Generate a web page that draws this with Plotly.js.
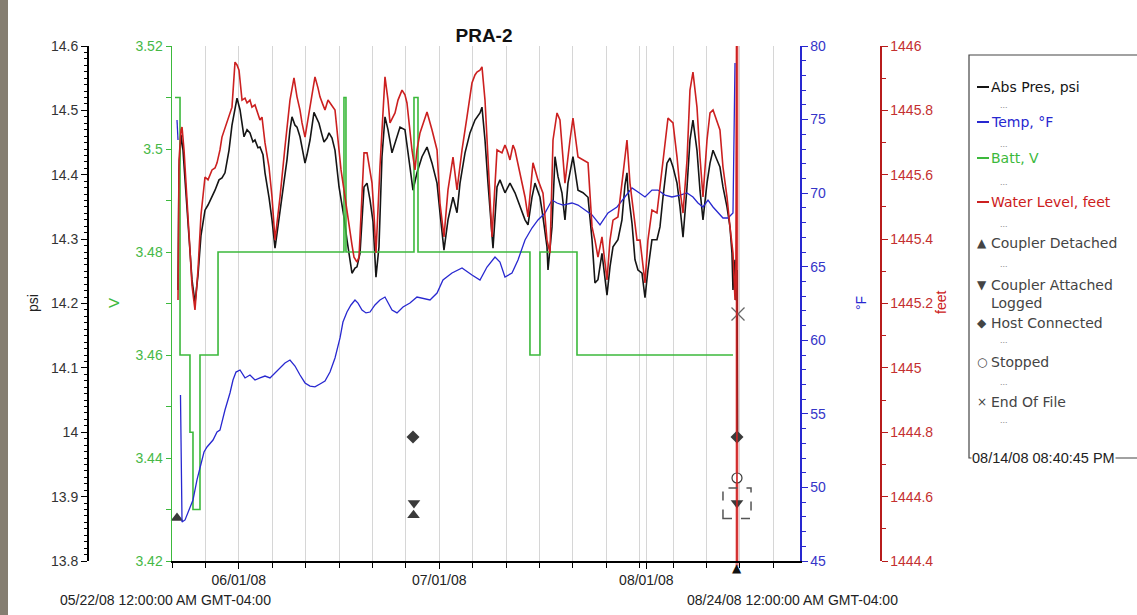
<!DOCTYPE html>
<html>
<head>
<meta charset="utf-8">
<script src="https://cdn.plot.ly/plotly-3.0.1.min.js"></script>
<style>
  html, body { margin: 0; padding: 0; background: #ffffff; }
  #chart { width: 1137px; height: 615px; }
</style>
</head>
<body>
<div id="chart"></div>
<script>
// ---------------- DATA ----------------
// time in days since 2008-05-22 00:00
const START_UTC = Date.UTC(2008, 4, 22);
const RANGE_DAYS = [0, 94];
const monthTicks = ['2008-06-01', '2008-07-01', '2008-08-01'];

const presDay = [0.90,1.05,1.35,1.65,1.95,2.39,2.69,2.99,3.44,3.89,
4.34,4.94,5.39,5.99,6.44,7.04,7.48,7.93,8.53,8.98,
9.28,9.73,10.18,10.78,11.23,11.67,12.12,12.42,12.87,13.17,
13.62,13.92,14.52,14.97,15.42,15.87,16.47,17.21,17.66,17.96,
18.41,18.71,19.16,19.61,19.91,20.21,20.66,21.25,21.70,22.00,
22.45,22.75,23.20,23.50,23.95,24.40,25.00,25.45,25.74,26.19,
26.64,26.94,27.39,27.69,28.14,28.44,28.74,29.19,29.64,30.09,
30.53,30.98,31.43,31.88,32.33,32.93,33.38,34.13,34.87,35.32,
35.62,36.07,36.37,36.67,37.42,38.17,38.92,39.67,40.11,40.71,
41.31,42.06,42.66,43.11,43.86,44.60,45.35,46.10,46.40,46.85,
47.30,47.90,48.05,48.65,49.09,49.84,50.59,51.34,52.09,52.84,
53.29,53.88,54.33,55.08,55.53,56.13,56.28,56.88,57.33,57.78,
58.37,58.82,59.27,60.02,60.77,61.52,62.27,62.87,63.31,63.76,
64.36,65.11,65.56,66.01,66.75,67.35,67.80,68.10,68.25,68.85,
69.30,69.75,70.35,70.80,71.24,71.84,72.59,73.04,73.49,74.09,
74.54,74.99,75.59,76.04,76.49,77.09,77.53,77.98,78.58,79.03,
79.48,80.08,80.53,80.98,81.58,82.02,82.47,83.07,83.52,83.82,
83.97,84.27,84.42,84.57,84.64];
const presPsi = [14.221,14.407,14.462,14.438,14.392,14.330,14.283,14.237,14.201,14.244,
14.306,14.345,14.353,14.365,14.376,14.392,14.395,14.403,14.438,14.477,
14.496,14.519,14.501,14.459,14.470,14.465,14.451,14.454,14.442,14.443,
14.431,14.403,14.365,14.330,14.286,14.322,14.365,14.423,14.470,14.490,
14.477,14.474,14.459,14.431,14.418,14.431,14.454,14.497,14.488,14.480,
14.462,14.451,14.457,14.465,14.457,14.438,14.381,14.353,14.334,14.299,
14.264,14.247,14.255,14.257,14.278,14.337,14.381,14.387,14.361,14.327,
14.241,14.288,14.428,14.490,14.470,14.434,14.449,14.474,14.470,14.438,
14.412,14.376,14.392,14.403,14.428,14.443,14.418,14.387,14.341,14.283,
14.330,14.365,14.341,14.387,14.434,14.465,14.485,14.496,14.505,14.454,
14.387,14.303,14.286,14.381,14.392,14.372,14.387,14.372,14.350,14.330,
14.322,14.365,14.387,14.365,14.334,14.288,14.252,14.319,14.428,14.397,
14.372,14.330,14.387,14.428,14.376,14.372,14.365,14.299,14.232,14.237,
14.278,14.213,14.257,14.288,14.299,14.330,14.384,14.403,14.376,14.325,
14.268,14.252,14.247,14.209,14.252,14.299,14.299,14.319,14.365,14.418,
14.426,14.412,14.387,14.350,14.303,14.381,14.454,14.485,14.438,14.376,
14.330,14.387,14.418,14.438,14.423,14.412,14.381,14.350,14.319,14.278,
14.221,14.268,14.205,14.252,13.988];

const levelDay = [0.90,1.05,1.35,1.50,1.80,2.10,2.39,2.69,2.99,3.44,
3.89,4.34,4.94,5.39,5.99,6.44,6.74,7.18,7.48,8.08,
8.53,8.98,9.43,9.73,10.03,10.48,10.93,11.23,11.67,11.97,
12.42,12.72,13.17,13.47,13.92,14.52,14.97,15.42,15.87,16.17,
16.91,17.66,18.26,18.71,19.16,19.46,19.91,20.21,20.66,21.40,
21.85,22.15,22.60,22.90,23.35,23.65,24.10,24.40,25.00,25.30,
25.74,26.49,26.94,27.24,27.69,27.99,28.44,28.74,29.19,29.64,
29.94,30.24,30.53,31.13,31.58,31.88,32.33,32.63,33.38,33.83,
34.43,34.87,35.17,35.62,35.92,36.37,36.67,37.12,37.72,38.17,
38.92,39.67,40.11,40.71,41.31,42.06,42.66,43.41,44.15,44.90,
45.35,45.65,46.10,46.40,46.85,47.30,47.90,48.65,49.39,49.84,
50.14,50.59,51.04,51.34,52.09,52.84,53.29,54.03,54.78,55.53,
56.13,56.58,57.03,57.63,58.07,58.82,59.57,60.02,60.77,61.52,
62.27,62.87,63.31,63.76,64.36,65.11,65.56,66.01,66.75,67.35,
68.10,68.55,69.00,69.60,70.05,70.80,71.24,71.84,72.59,73.04,
73.79,74.24,74.99,75.59,76.04,76.49,77.09,77.53,77.98,78.58,
79.03,79.48,80.08,80.53,80.98,81.58,82.02,82.47,83.07,83.52,
83.97,84.27,84.42,84.55,84.57];
const levelFt = [1445.211,1445.646,1445.739,1445.748,1445.677,1445.584,1445.475,1445.366,1445.257,1445.180,
1445.304,1445.475,1445.593,1445.584,1445.615,1445.621,1445.637,1445.677,1445.717,1445.755,
1445.779,1445.810,1445.950,1445.941,1445.925,1445.832,1445.838,1445.823,1445.832,1445.810,
1445.817,1445.795,1445.770,1445.779,1445.699,1445.624,1445.531,1445.397,1445.475,1445.531,
1445.686,1445.832,1445.901,1445.842,1445.801,1445.761,1445.717,1445.755,1445.810,1445.904,
1445.870,1445.842,1445.817,1445.801,1445.832,1445.823,1445.807,1445.801,1445.677,1445.615,
1445.553,1445.438,1445.382,1445.344,1445.329,1445.344,1445.522,1445.668,1445.668,1445.615,
1445.574,1445.475,1445.357,1445.624,1445.801,1445.904,1445.832,1445.761,1445.792,1445.832,
1445.863,1445.848,1445.823,1445.739,1445.677,1445.615,1445.677,1445.730,1445.770,1445.795,
1445.739,1445.677,1445.512,1445.407,1445.553,1445.655,1445.553,1445.677,1445.779,1445.885,
1445.910,1445.919,1445.925,1445.935,1445.832,1445.637,1445.407,1445.677,1445.668,1445.692,
1445.677,1445.646,1445.692,1445.677,1445.605,1445.531,1445.469,1445.637,1445.584,1445.543,
1445.397,1445.357,1445.708,1445.792,1445.770,1445.574,1445.708,1445.776,1445.655,1445.646,
1445.637,1445.438,1445.397,1445.344,1445.407,1445.273,1445.397,1445.459,1445.469,1445.574,
1445.708,1445.574,1445.500,1445.397,1445.397,1445.264,1445.397,1445.490,1445.481,1445.562,
1445.677,1445.776,1445.761,1445.655,1445.553,1445.481,1445.646,1445.863,1445.919,1445.810,
1445.655,1445.531,1445.708,1445.792,1445.801,1445.761,1445.739,1445.624,1445.531,1445.438,
1445.357,1445.211,1445.335,1446.100,1444.300];

const tempDay = [0.75,0.90,0.95,1.27,1.50,1.95,2.39,3.14,3.74,4.19,
4.79,5.24,6.14,6.74,7.18,7.93,8.68,9.13,9.58,10.18,
10.93,11.67,12.42,13.17,13.92,14.67,15.42,16.17,16.91,17.66,
18.41,19.16,19.91,20.66,21.40,22.15,22.90,23.65,24.40,25.15,
25.59,26.19,26.79,27.39,27.84,28.44,29.04,29.64,30.38,31.13,
31.88,32.93,33.68,34.58,35.62,36.67,37.57,38.62,39.67,40.56,
41.91,43.41,44.90,46.10,47.15,48.35,49.09,49.84,50.89,51.79,
52.84,53.88,54.78,55.83,56.88,57.63,58.52,59.87,60.77,61.82,
62.87,64.06,65.26,66.61,67.80,68.85,69.75,70.80,71.84,72.74,
73.79,74.84,76.04,77.09,77.98,78.73,79.48,80.23,80.98,81.73,
82.47,83.22,83.97,84.27];
const tempF = [74.97,73.61,null,56.28,47.65,47.79,48.33,49.15,50.51,51.39,
52.41,52.75,53.22,53.77,53.90,55.26,56.42,57.30,57.84,57.98,
57.44,57.64,57.30,57.44,57.57,57.44,57.78,58.12,58.46,58.66,
58.25,57.64,57.10,56.89,56.83,57.03,57.23,57.84,58.80,60.16,
61.24,61.92,62.40,62.74,62.53,62.06,61.86,61.92,62.40,62.74,
62.94,62.06,61.86,62.26,62.53,62.94,62.87,62.74,63.21,64.10,
64.57,64.91,64.44,64.10,64.98,65.66,65.32,64.30,64.57,65.46,
66.82,67.63,68.18,68.65,69.53,69.33,69.19,69.33,69.19,68.85,
68.52,67.84,68.65,69.06,69.74,70.35,70.08,69.74,70.21,70.21,
69.87,69.74,69.87,70.01,69.74,69.33,69.06,69.53,69.06,68.65,
68.31,68.31,68.65,78.84];

const battDay = [0.45,1.20,2.69,3.14,4.19,6.89,25.74,26.04,36.22,36.82,53.58,55.08,60.62,83.97];
const battV   = [3.51,3.46,3.445,3.43,3.46,3.48,3.51,3.48,3.51,3.48,3.46,3.48,3.46,3.46];

// event times (days since start)
const detachedDay = [0.75, 36.15, 84.57];
const attachedDay = [36.22, 84.57];
const hostDay     = [36.07, 84.57];
const stoppedDay  = [84.57];
const eofDay      = [84.72];

const legendNames = ['Abs Pres, psi', 'Temp, °F', 'Batt, V', 'Water Level, feet',
  'Coupler Detached', 'Coupler Attached', 'Host Connected', 'Stopped', 'End Of File'];
const legendStamp = '08/14/08 08:40:45 PM';
const startLabel = '05/22/08 12:00:00 AM GMT-04:00';
const endLabel   = '08/24/08 12:00:00 AM GMT-04:00';

// ---------------- HELPERS ----------------
function toDate(d) {
  const t = new Date(START_UTC + d * 86400000);
  return t.toISOString().slice(0, 19).replace('T', ' ');
}
const W = 1137, TOP = 46, BOT = 561;
const px = x => x / W;
const py = y => (BOT - y) / (BOT - TOP);
const FONT = '"Liberation Sans", Arial, sans-serif';
const LFONT = '"DejaVu Sans", Verdana, sans-serif';

const C_BLACK = '#151515', C_BLUE = '#2828d0', C_GREEN = '#3cb93c', C_RED = '#cc2020', C_EVT = '#3a3a3a';

// event lanes (vertical placement as a fraction of the plot height), mapped onto the psi axis
const PSI_RANGE = [13.8, 14.6];
const lane = f => PSI_RANGE[0] + f * (PSI_RANGE[1] - PSI_RANGE[0]);
const laneDetached = [0.0835, 0.089, -0.0136];
const laneAttached = [0.1126, 0.1126];
const laneHost = [0.2408, 0.2408];
const laneStopped = [0.1612];
const laneEof = [0.4796];

// events inside the plot become markers; an event lane below the axis becomes a glyph annotation
function eventTrace(days, lanes, marker) {
  const xs = [], ys = [];
  days.forEach((d, i) => { if (lanes[i] >= 0) { xs.push(toDate(d)); ys.push(lane(lanes[i])); } });
  return { x: xs, y: ys, yaxis: 'y', mode: 'markers', cliponaxis: false, marker: marker };
}

// ---------------- TRACES ----------------
const traces = [
  { x: presDay.map(toDate), y: presPsi, yaxis: 'y', type: 'scatter', mode: 'lines',
    line: { color: C_BLACK, width: 1.6 } },
  eventTrace(detachedDay, laneDetached, { symbol: 'triangle-up', size: 11, color: C_EVT }),
  eventTrace(attachedDay, laneAttached, { symbol: 'triangle-down', size: 11, color: C_EVT }),
  eventTrace(hostDay, laneHost, { symbol: 'diamond', size: 10, color: C_EVT }),
  eventTrace(stoppedDay, laneStopped, { symbol: 'circle', size: 10, color: '#ffffff', line: { color: C_EVT, width: 1.2 } }),
  eventTrace(eofDay, laneEof, { symbol: 'x-thin-open', size: 13, color: '#666', line: { color: '#666', width: 1.3 } }),
  { x: battDay.map(toDate), y: battV, yaxis: 'y2', type: 'scatter', mode: 'lines',
    line: { color: C_GREEN, width: 1.6, shape: 'hv' } },
  { x: tempDay.map(toDate), y: tempF, yaxis: 'y3', type: 'scatter', mode: 'lines',
    line: { color: C_BLUE, width: 1.3 }, connectgaps: false },
  { x: levelDay.map(toDate), y: levelFt, yaxis: 'y4', type: 'scatter', mode: 'lines',
    line: { color: C_RED, width: 1.6 } }
];

// ---------------- LAYOUT ----------------
const annotations = [];
const shapes = [];
function ann(text, x, y, o) {
  o = o || {};
  annotations.push(Object.assign({
    text: text, x: px(x), y: py(y), xref: 'paper', yref: 'paper', showarrow: false,
    xanchor: 'left', yanchor: 'middle',
    font: { family: FONT, size: 14, color: '#222' }
  }, o));
}
function hline(x0, x1, y, color, width) {
  shapes.push({ type: 'line', xref: 'paper', yref: 'paper', x0: px(x0), x1: px(x1), y0: py(y), y1: py(y),
    line: { color: color, width: width } });
}

// detached events drawn below the time axis
detachedDay.forEach((d, i) => {
  if (laneDetached[i] < 0) {
    annotations.push({ text: '▲', x: toDate(d), xref: 'x', y: laneDetached[i], yref: 'paper',
      showarrow: false, xanchor: 'center', yanchor: 'middle',
      font: { family: '"DejaVu Sans", sans-serif', size: 12, color: '#111' } });
  }
});

// outer frame
shapes.push({ type: 'rect', xref: 'paper', yref: 'paper', x0: px(0), x1: px(8), y0: py(615), y1: py(0),
  fillcolor: '#857e71', line: { width: 0 } });

// axis titles
ann('psi', 33, 303, { xanchor: 'center', textangle: -90, font: { family: FONT, size: 14, color: '#222' } });
ann('V', 113, 303, { xanchor: 'center', textangle: -90, font: { family: FONT, size: 15, color: C_GREEN } });
ann('°F', 861, 303, { xanchor: 'center', textangle: -90, font: { family: FONT, size: 14, color: C_BLUE } });
ann('feet', 941, 303, { xanchor: 'center', textangle: -90, font: { family: FONT, size: 14, color: C_RED } });

// bottom range labels
ann(startLabel, 58, 600, { font: { family: FONT, size: 14, color: '#222' } });
ann(endLabel, 685, 600, { font: { family: FONT, size: 14, color: '#222' } });

// legend box
shapes.push({ type: 'rect', xref: 'paper', yref: 'paper', x0: px(969), x1: px(1145), y0: py(458), y1: py(55),
  line: { color: '#444', width: 1.2 }, fillcolor: 'rgba(0,0,0,0)' });
const lx = 989, dotsX = 998;
const seriesRows = [[87, C_BLACK], [122, C_BLUE], [158, C_GREEN], [202, C_RED]];
seriesRows.forEach((r, i) => {
  hline(977, 989, r[0], r[1], 2);
  ann(legendNames[i], lx, r[0], { font: { family: LFONT, size: 14, color: r[1] } });
});
const evRows = [[243, '▲'], [285, '▼'], [323, '◆'], [362, '○'], [402, '×']];
evRows.forEach((r, i) => {
  ann(r[1], 982, r[0], { xanchor: 'center', font: { family: LFONT, size: 12, color: '#444' } });
  ann(legendNames[4 + i], lx, r[0], { font: { family: LFONT, size: 14, color: '#444' } });
});
ann('Logged', lx, 303, { font: { family: LFONT, size: 14, color: '#444' } });
[108, 147, 185, 227, 267, 343, 385, 423].forEach(y => {
  ann('...', dotsX, y - 3, { font: { family: FONT, size: 9, color: '#888' } });
});
ann(legendStamp, 971, 458, { bgcolor: '#ffffff', borderpad: 0, font: { family: FONT, size: 14.5, color: '#222' } });

// selection brackets around last attached event
const lastAtt = attachedDay[attachedDay.length - 1];
shapes.push({ type: 'rect', xref: 'x', yref: 'paper', x0: toDate(lastAtt - 2.1), x1: toDate(lastAtt + 2.1),
  y0: laneAttached[1] - 0.03, y1: laneAttached[1] + 0.029, line: { color: '#555', width: 1.5, dash: 'dash' } });

// pale cursor line at the end of the water level record
const lastLevel = levelDay[levelDay.length - 1];
shapes.push({ type: 'line', xref: 'x', yref: 'paper', x0: toDate(lastLevel), x1: toDate(lastLevel), y0: -0.01, y1: 1,
  line: { color: 'rgba(235,90,90,0.75)', width: 3 }, layer: 'below' });

const layout = {
  width: 1137, height: 615,
  margin: { l: 0, r: 0, t: TOP, b: 615 - BOT, pad: 0 },
  paper_bgcolor: '#ffffff', plot_bgcolor: '#ffffff',
  showlegend: false,
  font: { family: FONT, size: 14, color: '#222' },
  title: { text: '<b>PRA-2</b>', x: px(484), xref: 'paper', xanchor: 'center',
    y: 1 - 35 / 615, yref: 'container', yanchor: 'middle',
    font: { family: FONT, size: 19, color: '#111' } },
  xaxis: {
    domain: [px(172), px(800)], type: 'date',
    range: [toDate(RANGE_DAYS[0]), toDate(RANGE_DAYS[1])],
    tickmode: 'array', tickvals: monthTicks, tickformat: '%m/%d/%y',
    ticks: 'outside', ticklen: 6, tickcolor: '#000', tickwidth: 1,
    showline: true, linecolor: '#000', linewidth: 1.5,
    showgrid: true, gridcolor: '#d6d6d6', gridwidth: 1, zeroline: false,
    tickfont: { family: FONT, size: 14, color: '#222' },
    minor: { tickmode: 'linear', tick0: '2008-05-27', dtick: 5 * 86400000, ticks: 'outside', ticklen: 5,
      tickcolor: '#000', showgrid: true, gridcolor: '#d6d6d6', gridwidth: 1 }
  },
  yaxis: {
    anchor: 'free', position: px(87), side: 'left', range: PSI_RANGE, tick0: 13.8, dtick: 0.1,
    ticks: 'outside', ticklen: 6, tickcolor: '#000', showline: true, linecolor: '#000', linewidth: 1.5,
    showgrid: false, zeroline: false, tickfont: { family: FONT, size: 14, color: '#333' },
    minor: { dtick: 0.01, ticks: 'outside', ticklen: 3, tickcolor: '#000' }
  },
  yaxis2: {
    overlaying: 'y', anchor: 'x', side: 'left', range: [3.42, 3.52], tick0: 3.42, dtick: 0.02,
    ticks: 'outside', ticklen: 5, tickcolor: C_GREEN, showline: true, linecolor: C_GREEN, linewidth: 1.5,
    showgrid: false, zeroline: false, tickfont: { family: FONT, size: 14, color: '#46b846' },
    minor: { dtick: 0.01, ticks: 'outside', ticklen: 5, tickcolor: C_GREEN }
  },
  yaxis3: {
    overlaying: 'y', anchor: 'x', side: 'right', range: [45, 80], tick0: 45, dtick: 5,
    ticks: 'outside', ticklen: 6, tickcolor: C_BLUE, showline: true, linecolor: C_BLUE, linewidth: 1.5,
    showgrid: false, zeroline: false, tickfont: { family: FONT, size: 14, color: '#3535c8' },
    minor: { dtick: 1, ticks: 'outside', ticklen: 4, tickcolor: C_BLUE }
  },
  yaxis4: {
    overlaying: 'y', anchor: 'free', position: px(880), side: 'right', range: [1444.4, 1446], tick0: 1444.4, dtick: 0.2,
    tickformat: '.6~g',
    ticks: 'outside', ticklen: 6, tickcolor: '#b81c1c', showline: true, linecolor: '#b81c1c', linewidth: 1.5,
    showgrid: false, zeroline: false, tickfont: { family: FONT, size: 14, color: '#c43030' },
    minor: { dtick: 0.1, ticks: 'outside', ticklen: 4, tickcolor: '#b81c1c' }
  },
  annotations: annotations,
  shapes: shapes
};

Plotly.newPlot('chart', traces, layout, { displayModeBar: false, staticPlot: true });
</script>
</body>
</html>
